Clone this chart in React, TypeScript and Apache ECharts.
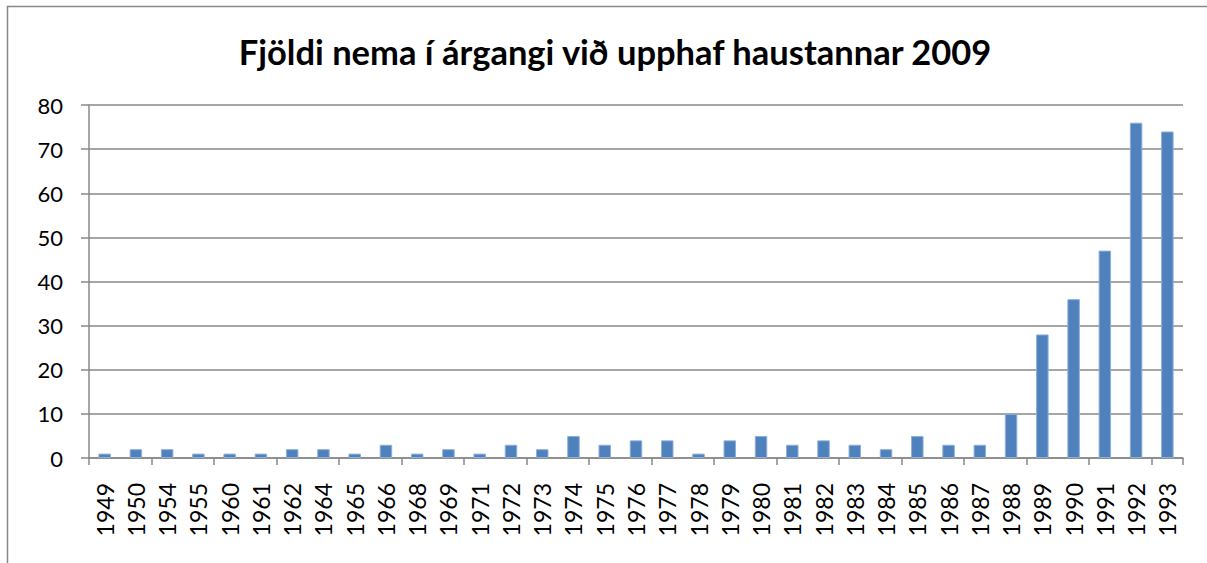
import React, { useEffect, useRef } from "react";
import * as echarts from "echarts";

const TITLE = "Fjöldi nema í árgangi við upphaf haustannar 2009";
const years = [
  "1949", "1950", "1954", "1955", "1960", "1961", "1962", "1964", "1965", "1966",
  "1968", "1969", "1971", "1972", "1973", "1974", "1975", "1976", "1977", "1978",
  "1979", "1980", "1981", "1982", "1983", "1984", "1985", "1986", "1987", "1988",
  "1989", "1990", "1991", "1992", "1993",
];
const counts = [
  1, 2, 2, 1, 1, 1, 2, 2, 1, 3,
  1, 2, 1, 3, 2, 5, 3, 4, 4, 1,
  4, 5, 3, 4, 3, 2, 5, 3, 3, 10,
  28, 36, 47, 76, 74,
];

const FONT = "Lato";

export default function App() {
  const ref = useRef<HTMLDivElement>(null);
  useEffect(() => {
    document.body.style.margin = "0";
    const chart = echarts.init(ref.current!, undefined, { renderer: "svg" });
    chart.setOption({
      animation: false,
      backgroundColor: "#ffffff",
      title: {
        text: TITLE,
        left: 610,
        textAlign: "center",
        top: 29,
        textStyle: { fontFamily: FONT, fontWeight: "bold", fontSize: 34.5, color: "#000" },
      },
      graphic: [
        {
          type: "rect",
          shape: { x: 7.5, y: 6.5, width: 1300, height: 700 },
          style: { fill: "none", stroke: "#888888", lineWidth: 1.5 },
          silent: true,
        },
      ],
      grid: { left: 89, right: 24, top: 105, bottom: 105 },
      xAxis: {
        type: "category",
        data: years,
        axisLine: { show: true, lineStyle: { color: "#888888", width: 1.5 } },
        axisTick: { show: true, interval: 1, length: 7, lineStyle: { color: "#888888", width: 1.5 } },
        axisLabel: {
          interval: 0,
          rotate: 90,
          margin: 25,
          fontFamily: FONT,
          fontSize: 23,
          color: "#000",
        },
      },
      yAxis: {
        type: "value",
        min: 0,
        max: 80,
        interval: 10,
        axisLine: { show: true, lineStyle: { color: "#888888", width: 1.5 } },
        axisTick: { show: true, length: 8, lineStyle: { color: "#888888", width: 1.5 } },
        splitLine: { show: true, lineStyle: { color: "#888888", width: 1.5 } },
        axisLabel: { margin: 26, fontFamily: FONT, fontSize: 22, color: "#000" },
      },
      series: [
        {
          type: "bar",
          data: counts,
          barWidth: "40%",
          itemStyle: { color: "#4F81BD", borderColor: "#8DB0DA", borderWidth: 1 },
        },
      ],
    });
    return () => chart.dispose();
  }, []);
  return <div ref={ref} style={{ width: 1207, height: 563 }} />;
}
